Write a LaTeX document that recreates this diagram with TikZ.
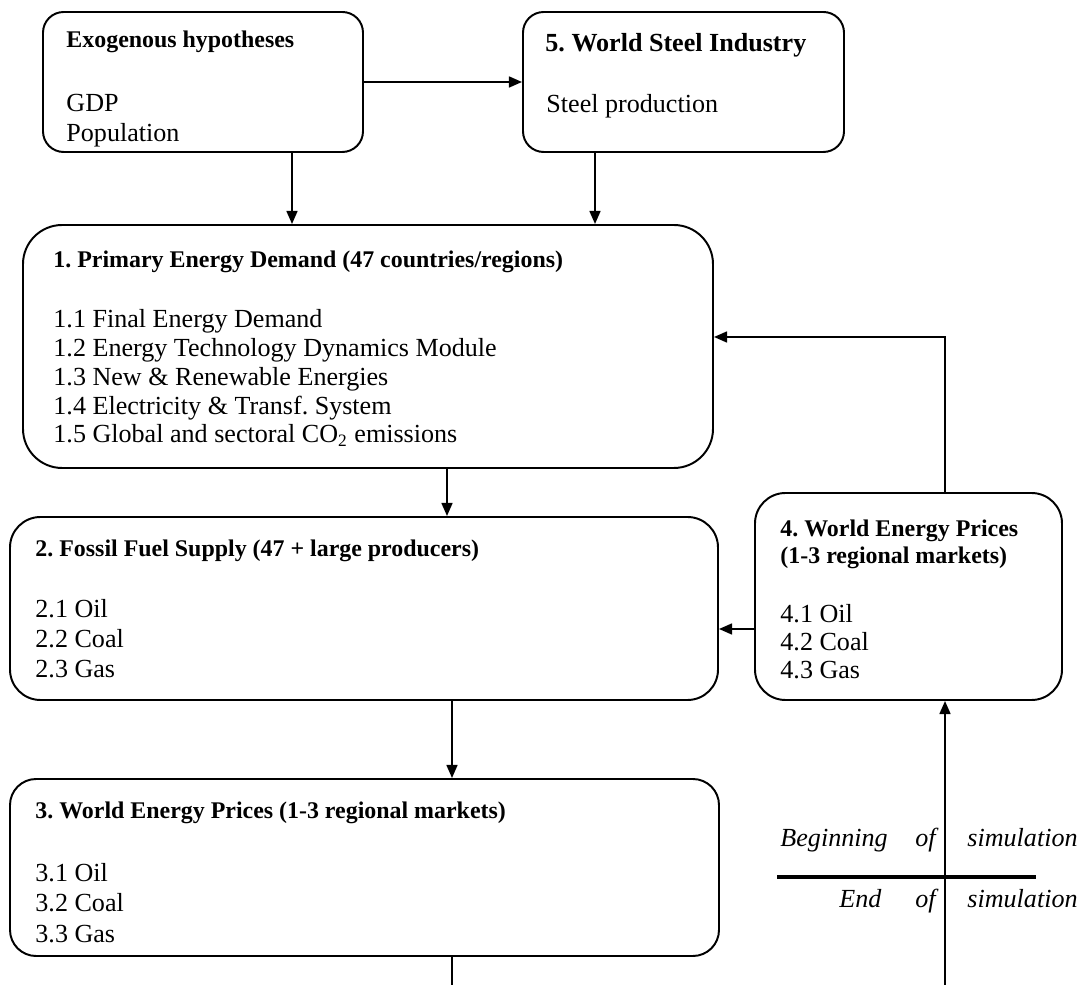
\documentclass[tikz,border=0pt]{standalone}
\usepackage{fontspec}
\setmainfont{Liberation Serif}
\usetikzlibrary{fit,arrows.meta}
\begin{document}
\frenchspacing
\begin{tikzpicture}[x=0.46pt,y=-0.46pt,
  box/.style={draw,line width=0.9pt,inner sep=0pt},
  hd/.style={anchor=base west,inner sep=0pt,font=\fontsize{11}{12}\selectfont\bfseries},
  hdbig/.style={anchor=base west,inner sep=0pt,font=\fontsize{12}{13.8}\selectfont\bfseries},
  txt/.style={anchor=base west,inner sep=0pt,font=\fontsize{12}{13.8}\selectfont},
  txa/.style={anchor=base west,inner sep=0pt,font=\fontsize{12}{13.2}\selectfont},
  txb/.style={anchor=base west,inner sep=0pt,font=\fontsize{12}{14.2}\selectfont},
  txc/.style={anchor=base west,inner sep=0pt,font=\fontsize{12}{12.8}\selectfont},
  itx/.style={anchor=base west,inner sep=0pt,font=\fontsize{12}{13.8}\selectfont\itshape},
  arr/.style={line width=0.9pt,-{Triangle[length=6pt,width=5pt]}},
  ln/.style={line width=0.9pt}]
\useasboundingbox (0,0) rectangle (1081,985);
% boxes
\node[box,rounded corners=9.5pt,fit={(43,12) (363,152)}] (exo) {};
\node[box,rounded corners=9.5pt,fit={(523,12) (844,152)}] (b5) {};
\node[box,rounded corners=18pt,fit={(23,225) (713,468)}] (b1) {};
\node[box,rounded corners=14pt,fit={(10,517) (718,700)}] (b2) {};
\node[box,rounded corners=14pt,fit={(755,493) (1062,700)}] (b4) {};
\node[box,rounded corners=12pt,fit={(10,779) (719,956)}] (b3) {};
% headers
\node[hd] (hexo) at (66,48) {Exogenous hypotheses};
\node[hdbig] (hb5) at (545,52) {5. World Steel Industry};
\node[hd] (hb1) at (53,268) {1. Primary Energy Demand (47 countries/regions)};
\node[hd] (hb2) at (35,557) {2. Fossil Fuel Supply (47 + large producers)};
\node[hd] (hb3) at (35,818) {3. World Energy Prices (1-3 regional markets)};
\node[hd] (hb4) at (780,537) {\begin{tabular}[t]{@{}l@{}}4. World Energy Prices\\ (1-3 regional markets)\end{tabular}};
% bodies
\node[txt] (texo) at (66,112) {\begin{tabular}[t]{@{}l@{}}GDP\\ Population\end{tabular}};
\node[txt] (tb5) at (546,113) {Steel production};
\node[txa] (tb1) at (53,328) {\begin{tabular}[t]{@{}l@{}}1.1 Final Energy Demand\\ 1.2 Energy Technology Dynamics Module\\ 1.3 New \& Renewable Energies\\ 1.4 Electricity \& Transf. System\\ 1.5 Global and sectoral CO\textsubscript{2} emissions\end{tabular}};
\node[txt] (tb2) at (35,618) {\begin{tabular}[t]{@{}l@{}}2.1 Oil\\ 2.2 Coal\\ 2.3 Gas\end{tabular}};
\node[txb] (tb3) at (35,881) {\begin{tabular}[t]{@{}l@{}}3.1 Oil\\ 3.2 Coal\\ 3.3 Gas\end{tabular}};
\node[txc] (tb4) at (780,623) {\begin{tabular}[t]{@{}l@{}}4.1 Oil\\ 4.2 Coal\\ 4.3 Gas\end{tabular}};
% simulation labels
\node[itx] (bg1) at (780,846) {Beginning};
\node[itx] (bg2) at (915,846) {of};
\node[itx] (bg3) at (967,846) {simulation};
\node[itx] (en1) at (839,907) {End};
\node[itx] (en2) at (915,907) {of};
\node[itx] (en3) at (967,907) {simulation};
% helper coordinates
\coordinate (xa) at (292,0);
\coordinate (xb) at (595,0);
\coordinate (xc) at (447,0);
\coordinate (xd) at (452,0);
\coordinate (xf) at (945,0);
\coordinate (yfb) at (0,337);
\coordinate (ypr) at (0,629);
\coordinate (bot1) at (452,985);
\coordinate (bot2) at (945,985);
\coordinate (tl) at (777,877);
\coordinate (tr) at (1036,877);
% connectors
\draw[arr] (exo.east) -- (b5.west);
\draw[arr] (exo.south -| xa) -- (b1.north -| xa);
\draw[arr] (b5.south -| xb) -- (b1.north -| xb);
\draw[arr] (b1.south -| xc) -- (b2.north -| xc);
\draw[arr] (b2.south -| xd) -- (b3.north -| xd);
\draw[ln] (b3.south -| xd) -- (bot1);
\draw[arr] (b4.north -| xf) |- (b1.east |- yfb);
\draw[arr] (b4.west |- ypr) -- (b2.east |- ypr);
\draw[arr] (bot2) -- (b4.south -| bot2);
\draw[line width=2pt] (tl) -- (tr);
\end{tikzpicture}
\end{document}
